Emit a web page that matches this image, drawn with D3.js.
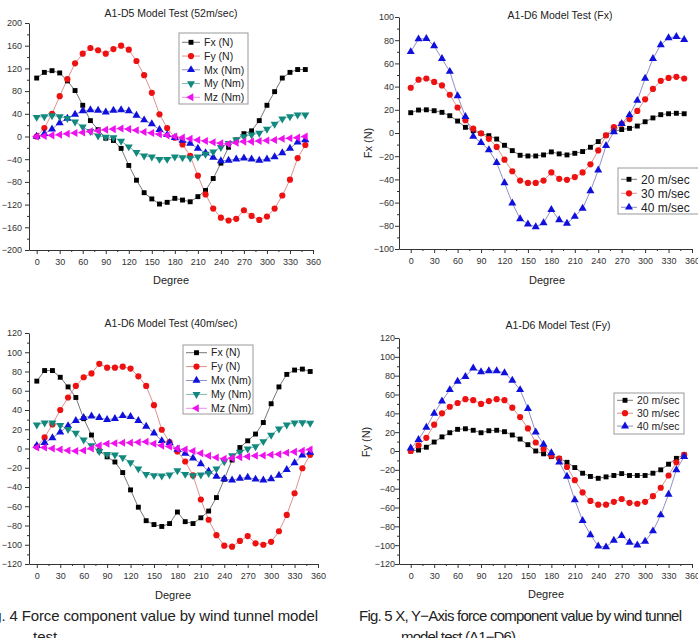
<!DOCTYPE html>
<html>
<head>
<meta charset="utf-8">
<script src="https://cdn.jsdelivr.net/npm/d3@7"></script>
<style>
  body { margin: 0; background: #fff; }
  svg { display: block; font-family: "Liberation Sans", Arial, sans-serif; }
</style>
</head>
<body>
<div id="chart"></div>
<script>
// wind direction, one reading every 10 degrees
const degree = [0,10,20,30,40,50,60,70,80,90,100,110,120,130,140,150,160,170,
  180,190,200,210,220,230,240,250,260,270,280,290,300,310,320,330,340,350];
const degreeTicks = [0,30,60,90,120,150,180,210,240,270,300,330,360];

// A1-D5 model test, 52 m/sec
const d5Fx = [103,113,116,112,98,81,55,28,12,-3,-7,-21,-51,-77,-99,-110,-119,-116,
  -109,-112,-115,-106,-95,-74,-47,-19,-6,5,10,28,55,79,103,113,118,118];
const d5Fy = [0,15,40,71,101,129,146,156,152,146,154,160,153,133,108,77,39,15,
  -2,-14,-34,-69,-102,-127,-143,-148,-145,-130,-140,-147,-141,-127,-104,-76,-38,-15];
const d5Mx = [0,5,13,24,32,39,45,47,46,43,46,47,45,37,29,22,12,3,
  -2,-7,-12,-21,-29,-37,-43,-42,-40,-38,-40,-42,-40,-36,-29,-21,-10,-6];
const d5My = [34,35,37,35,32,26,17,9,1,-1,-2,-8,-18,-28,-34,-36,-40,-40,
  -36,-37,-38,-36,-31,-27,-19,-12,-6,0,3,6,13,22,31,35,38,38];
const d5Mz = [0,1,2,3,5,6,7,9,10,12,13,14,13,11,8,6,4,2,
  0,-2,-4,-6,-8,-10,-12,-13,-11,-9,-9,-8,-7,-6,-4,-3,-2,0];
const d5Ticks = [-200,-160,-120,-80,-40,0,40,80,120,160,200];

// A1-D6 model test, Fx at three wind speeds
const fx20 = [17.5,19.8,20,19.2,17.8,14.9,10.3,4.9,2,-0.5,-2.3,-5.2,-10.6,-15.2,-19.2,-19.8,-19.8,-18.9,
  -16.3,-18,-18.9,-17.5,-16,-12.3,-7.4,-2,1.4,3,4,6,9.7,13,15.8,16.6,17,16.6];
const fx30 = [39,46,47,44,41,33,22,11,3.7,-0.3,-5,-12,-23,-33,-41,-43,-43,-41,
  -34,-39.5,-40.4,-38,-34,-27,-15,-2,5,8,12,19,29,38,45,47.5,48.4,47];
const fx40 = [70,81,81.4,75,64,53,32,14,-3,-8.3,-14.6,-25.5,-43,-60.5,-74,-78.5,-81,-77.6,
  -66,-75,-78,-72,-65,-50,-32,-11,1,8,15.5,28,47,64,76,82,83,80.5];
const fxTicks = [-100,-80,-60,-40,-20,0,20,40,60,80,100];

// A1-D6 model test, 40 m/sec
const d6Fx = [70,81,81,74,64,53,31,14,-2.4,-8.7,-14,-25,-43,-61,-75,-79,-81,-78,
  -66,-76,-78,-72,-65,-51,-32,-12,1,8,15,27,46.5,64,77,81.5,82.5,80];
const d6Fy = [2,11.5,25,40,53,65,74,78,88,84,84,85,83,75,65,45,19.5,6.6,
  -3,-13.5,-28,-53,-74,-90,-101,-102,-96,-91,-98.5,-100,-97,-86,-69,-46.5,-20.5,-6.6];
const d6Mx = [3,6,11,17,23.6,29,32,33.6,32,30,31,34,33,29,23,16,8,6,
  -1,-5,-10,-16,-23.6,-29,-31.6,-33,-31,-30,-32,-33,-31.6,-28,-22,-15,-7,-4];
const d6My = [24.6,26.7,26.7,24,20,16,9,3,-3,-6,-6.6,-9.4,-14.6,-21,-26.7,-28,-28.5,-27.4,
  -23,-26.7,-28,-27.4,-25.7,-21,-13.5,-7.3,-3.8,-0.3,2,7.3,14,20.5,24.6,26.7,27,26.4];
const d6Mz = [1,1,0,-1,-2,-2.5,-2,0,3,5,5.5,6,6,6.5,7,5,3,2,
  0,-1,-2.5,-5,-7.6,-9.4,-10.7,-10,-9,-8.3,-7.6,-7.3,-6.6,-5.9,-4.5,-3.5,-2.4,-1];
const d6Ticks = [-120,-100,-80,-60,-40,-20,0,20,40,60,80,100,120];

// A1-D6 model test, Fy at three wind speeds
const fy20 = [0,1,4,9.5,15,19.4,23,23.6,22,19.4,21.5,22,20.5,17,12.7,6.7,0,-3,
  -6,-7.8,-12,-17.6,-23.6,-27,-29,-27.5,-26,-24,-26,-26,-26,-23.6,-20,-14,-7.8,-4];
const fy30 = [0,6,14,28,40,47,51,55,54,50,53,55,54,46,36,24,9,2,
  -5,-8,-17,-31,-44,-53,-57,-57,-54,-51,-55,-56,-54,-48,-39,-26,-12,-4];
const fy40 = [3,12,25,40,53,65,74,79,88,84,85,85,83,75,65,45,20,7,
  -2,-12,-27,-52,-74,-89,-101,-102,-95,-90,-97,-100,-96,-85,-68,-46,-20,-6];
const fyTicks = [-120,-100,-80,-60,-40,-20,0,20,40,60,80,100,120];

// marker / colour per series kind
const styles = {
  black:   { fill: '#000000', line: '#777777', shape: d3.symbolSquare,   rot: 0,   size: 24 },
  red:     { fill: '#ee1111', line: '#e09090', shape: d3.symbolCircle,   rot: 0,   size: 30 },
  blue:    { fill: '#1010dd', line: '#9090c8', shape: d3.symbolTriangle, rot: 0,   size: 28 },
  teal:    { fill: '#11897f', line: '#80b8b0', shape: d3.symbolTriangle, rot: 180, size: 28 },
  magenta: { fill: '#ee11ee', line: '#e890e8', shape: d3.symbolTriangle, rot: -90, size: 28 }
};

const svg = d3.select('#chart')
  .append('svg')
  .attr('width', 698)
  .attr('height', 638);

function marker(sel, st, px, py) {
  sel.append('path')
    .attr('d', d3.symbol().type(st.shape).size(st.size)())
    .attr('transform', `translate(${px},${py}) rotate(${st.rot})`)
    .attr('fill', st.fill);
}

function drawPanel(p) {
  const x = d3.scaleLinear().domain(p.xDomain).range(p.xRange);
  const y = d3.scaleLinear().domain(p.yDomain).range(p.yRange);
  const g = svg.append('g');

  const step = p.yTicks[1] - p.yTicks[0];
  const yMinor = p.yTicks.slice(1).map(v => v - step / 2);
  const xMinor = degreeTicks.slice(1).map(v => v - 15);

  // minor ticks
  g.append('g')
    .attr('transform', `translate(0,${p.yRange[0]})`)
    .call(d3.axisBottom(x).tickValues(xMinor).tickSize(2).tickSizeOuter(0).tickFormat(''))
    .call(a => a.select('.domain').remove());
  g.append('g')
    .attr('transform', `translate(${p.xRange[0]},0)`)
    .call(d3.axisLeft(y).tickValues(yMinor).tickSize(2).tickSizeOuter(0).tickFormat(''))
    .call(a => a.select('.domain').remove());

  // major ticks + labels
  const xAxis = g.append('g')
    .attr('transform', `translate(0,${p.yRange[0]})`)
    .call(d3.axisBottom(x).tickValues(degreeTicks).tickSize(4).tickSizeOuter(0).tickPadding(5));
  const yAxis = g.append('g')
    .attr('transform', `translate(${p.xRange[0]},0)`)
    .call(d3.axisLeft(y).tickValues(p.yTicks).tickSize(4).tickSizeOuter(0).tickPadding(p.yPad));

  [xAxis, yAxis].forEach(a => {
    a.selectAll('text').style('font-size', '9px').attr('fill', '#333');
    a.selectAll('line, path').attr('stroke', '#333');
  });
  g.selectAll('.tick line').attr('stroke', '#333');

  // title and axis names
  g.append('text')
    .attr('x', p.titleX).attr('y', p.titleY)
    .attr('text-anchor', 'middle')
    .style('font-size', '10.5px').attr('fill', '#222')
    .text(p.title);
  g.append('text')
    .attr('x', p.degX).attr('y', p.degY)
    .attr('text-anchor', 'middle')
    .style('font-size', '11px').attr('fill', '#222')
    .text('Degree');
  if (p.yLabel) {
    g.append('text')
      .attr('transform', `translate(${p.yLabelX},${p.yLabelY}) rotate(-90)`)
      .attr('text-anchor', 'middle')
      .style('font-size', '11px').attr('fill', '#222')
      .text(p.yLabel);
  }

  // series
  const line = d3.line()
    .x((d, i) => x(degree[i]))
    .y(d => y(d));

  p.series.forEach(s => {
    const st = styles[s.style];
    g.append('path')
      .datum(s.values)
      .attr('d', line)
      .attr('fill', 'none')
      .attr('stroke', st.line)
      .attr('stroke-width', 1);
  });
  p.series.forEach(s => {
    const st = styles[s.style];
    const m = g.append('g');
    s.values.forEach((v, i) => marker(m, st, x(degree[i]), y(v)));
  });

  // legend
  const L = p.legend;
  g.append('rect')
    .attr('x', L.x).attr('y', L.y)
    .attr('width', L.w).attr('height', L.h)
    .attr('fill', '#fff')
    .attr('stroke', '#999')
    .attr('stroke-width', 1);
  p.series.forEach((s, i) => {
    const st = styles[s.style];
    const ly = L.y + L.top + i * L.row;
    g.append('line')
      .attr('x1', L.x + 3).attr('x2', L.x + 3 + L.sample)
      .attr('y1', ly).attr('y2', ly)
      .attr('stroke', st.line);
    marker(g, st, L.x + 3 + L.sample / 2, ly);
    g.append('text')
      .attr('x', L.x + L.sample + 7)
      .attr('y', ly + L.font * 0.36)
      .style('font-size', L.font + 'px')
      .attr('fill', '#222')
      .text(s.name);
  });
}

drawPanel({
  xDomain: [-10, 360], xRange: [29, 313],
  yDomain: [-200, 200], yRange: [250, 23], yTicks: d5Ticks, yPad: 3,
  title: 'A1-D5 Model Test (52m/sec)', titleX: 171, titleY: 17,
  degX: 171, degY: 284,
  series: [
    { name: 'Fx (N)', values: d5Fx, style: 'black' },
    { name: 'Fy (N)', values: d5Fy, style: 'red' },
    { name: 'Mx (Nm)', values: d5Mx, style: 'blue' },
    { name: 'My (Nm)', values: d5My, style: 'teal' },
    { name: 'Mz (Nm)', values: d5Mz, style: 'magenta' }
  ],
  legend: { x: 179, y: 33, w: 69, h: 71, top: 9.3, row: 13.75, sample: 18, font: 10.5 }
});

drawPanel({
  xDomain: [-15, 360], xRange: [399, 692],
  yDomain: [-100, 100], yRange: [249, 17], yTicks: fxTicks, yPad: 1,
  title: 'A1-D6 Model Test (Fx)', titleX: 560, titleY: 19,
  degX: 547, degY: 284,
  yLabel: 'Fx (N)', yLabelX: 372, yLabelY: 143,
  series: [
    { name: '20 m/sec', values: fx20, style: 'black' },
    { name: '30 m/sec', values: fx30, style: 'red' },
    { name: '40 m/sec', values: fx40, style: 'blue' }
  ],
  legend: { x: 618, y: 168, w: 84, h: 46, top: 11.3, row: 14, sample: 16, font: 12 }
});

drawPanel({
  xDomain: [-10, 360], xRange: [29, 318],
  yDomain: [-120, 120], yRange: [564, 333], yTicks: d6Ticks, yPad: 3,
  title: 'A1-D6 Model Test (40m/sec)', titleX: 171, titleY: 327,
  degX: 173, degY: 599,
  series: [
    { name: 'Fx (N)', values: d6Fx, style: 'black' },
    { name: 'Fy (N)', values: d6Fy, style: 'red' },
    { name: 'Mx (Nm)', values: d6Mx, style: 'blue' },
    { name: 'My (Nm)', values: d6My, style: 'teal' },
    { name: 'Mz (Nm)', values: d6Mz, style: 'magenta' }
  ],
  legend: { x: 183, y: 345, w: 70, h: 69, top: 7.7, row: 13.9, sample: 21, font: 10.5 }
});

drawPanel({
  xDomain: [-15, 360], xRange: [399, 692],
  yDomain: [-120, 120], yRange: [564, 338], yTicks: fyTicks, yPad: 0,
  title: 'A1-D6 Model Test (Fy)', titleX: 558, titleY: 329,
  degX: 546, degY: 598,
  yLabel: 'Fy (N)', yLabelX: 370, yLabelY: 442,
  series: [
    { name: '20 m/sec', values: fy20, style: 'black' },
    { name: '30 m/sec', values: fy30, style: 'red' },
    { name: '40 m/sec', values: fy40, style: 'blue' }
  ],
  legend: { x: 614, y: 393, w: 70, h: 41, top: 7.3, row: 12.9, sample: 16, font: 10.5 }
});

// figure captions (cut by the page edges, as in the scan)
const cap = svg.append('g')
  .style('font-size', '15px')
  .attr('fill', '#222');
cap.append('text')
  .attr('x', -19).attr('y', 621)
  .attr('textLength', 337).attr('lengthAdjust', 'spacing')
  .text('Fig. 4 Force component value by wind tunnel model');
cap.append('text')
  .attr('x', 33).attr('y', 642)
  .text('test');
cap.append('text')
  .attr('x', 359).attr('y', 621)
  .attr('textLength', 323).attr('lengthAdjust', 'spacing')
  .text('Fig. 5 X, Y\u2212Axis force component value by wind tunnel');
cap.append('text')
  .attr('x', 401).attr('y', 642)
  .attr('textLength', 115).attr('lengthAdjust', 'spacing')
  .text('model test (A1\u2212D6)');
</script>
</body>
</html>
